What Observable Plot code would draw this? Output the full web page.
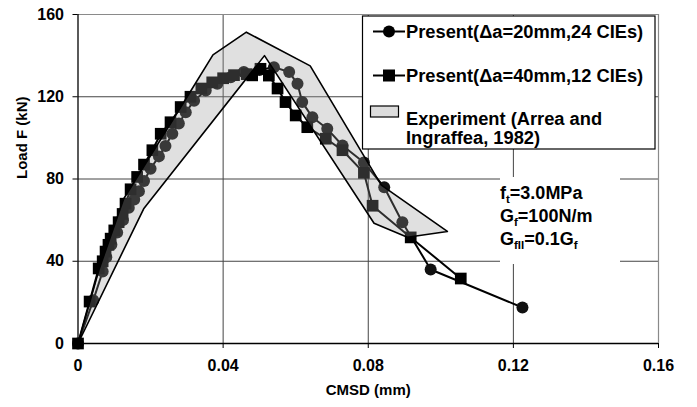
<!DOCTYPE html>
<html>
<head>
<meta charset="utf-8">
<script src="https://cdn.jsdelivr.net/npm/d3@7"></script>
<script src="https://cdn.jsdelivr.net/npm/@observablehq/plot@0.6"></script>
<style>
  html, body { margin: 0; padding: 0; background: white; }
  #chart { width: 697px; height: 407px; }
</style>
</head>
<body>
<div id="chart"></div>
<script>
// ---- tick values ----
const xTicks = [0, 0.04, 0.08, 0.12, 0.16];
const yTicks = [0, 40, 80, 120, 160];

// ---- Present (Δa=20mm, 24 CIEs) : circles ----
const circX = [0, 0.0042, 0.0068, 0.0078, 0.0092, 0.0108, 0.0124, 0.0140, 0.0155, 0.0168, 0.0182, 0.0200, 0.0223, 0.0241, 0.0260, 0.0278, 0.0297, 0.0320, 0.0352, 0.0384, 0.0421, 0.0457, 0.0500, 0.0540, 0.0582, 0.0605, 0.0618, 0.0646, 0.0687, 0.0729, 0.0788, 0.0844, 0.0894, 0.0972, 0.1225];
const circY = [0, 21, 35, 42, 48, 54, 60, 66, 70, 74, 79, 85, 91, 96, 102, 107, 112.5, 118, 123, 126.3, 129.5, 132, 133, 134.4, 132, 126.3, 117.4, 110, 104.4, 96.3, 88, 76, 59, 36, 17.5];

// ---- Present (Δa=40mm, 12 CIEs) : squares ----
const sqX = [0, 0.0032, 0.0057, 0.0068, 0.0076, 0.0084, 0.0090, 0.0100, 0.0112, 0.0123, 0.0131, 0.0145, 0.0163, 0.0182, 0.0205, 0.0228, 0.0255, 0.0283, 0.0310, 0.0340, 0.0370, 0.0400, 0.0430, 0.0465, 0.0480, 0.0503, 0.0526, 0.0550, 0.0572, 0.0600, 0.0632, 0.0683, 0.0729, 0.0788, 0.0812, 0.0917, 0.1055];
const sqY = [0, 20.4, 36.5, 40, 44.7, 48, 51, 55, 59, 63, 68, 75, 81, 87, 94, 102, 107.6, 115, 120, 124, 127, 129, 130.5, 131, 130.4, 133.6, 130.3, 124, 117.4, 110.9, 105.2, 99.6, 94, 83, 67, 51.6, 31.6];

// ---- Experiment band (Arrea and Ingraffea, 1982): closed outline ----
const bandX = [0, 0.0058, 0.0126, 0.0301, 0.0372, 0.0464, 0.0640, 0.0836, 0.1018, 0.0908, 0.0816, 0.0514, 0.0181, 0];
const bandY = [0, 36, 70.4, 120, 140.4, 151.4, 135, 77, 54.5, 51.7, 58.5, 140, 65.5, 0];

// ---- texts ----
const xTitle = "CMSD (mm)";
const yTitle = "Load F (kN)";
const legendLabels = ["Present(Δa=20mm,24 CIEs)", "Present(Δa=40mm,12 CIEs)", ["Experiment (Arrea and", "Ingraffea, 1982)"]];

const circ = circX.map((x, i) => ({x, y: circY[i]}));
const sq = sqX.map((x, i) => ({x, y: sqY[i]}));
const band = bandX.map((x, i) => ({x, y: bandY[i]}));

const FONT = "'Liberation Sans', Arial, Helvetica, sans-serif";

const svg = Plot.plot({
  width: 697,
  height: 407,
  marginLeft: 77.5,
  marginRight: 39,
  marginTop: 14,
  marginBottom: 64,
  style: {fontFamily: FONT, fontWeight: "bold", fontSize: "16px", color: "black", background: "white", overflow: "visible"},
  x: {domain: [0, 0.16], ticks: xTicks, tickFormat: d => String(d), label: null},
  y: {domain: [0, 160], ticks: yTicks, label: null},
  marks: [
    Plot.ruleX(xTicks.slice(1, 4), {stroke: "#444", strokeWidth: 1}),
    Plot.ruleY(yTicks.slice(1, 4), {stroke: "#444", strokeWidth: 1}),
    Plot.ruleX([0.16], {stroke: "#8a8a8a", strokeWidth: 1.2}),
    Plot.ruleY([160], {stroke: "#8a8a8a", strokeWidth: 1.2}),
    Plot.axisX({ticks: xTicks, tickFormat: d => String(d), tickSize: 5, tickPadding: 11, label: null, fontSize: 16}),
    Plot.axisY({ticks: yTicks, tickSize: 5, tickPadding: 9, label: null, fontSize: 16}),
    Plot.ruleX([0], {stroke: "black", strokeWidth: 1.3}),
    Plot.ruleY([0], {stroke: "black", strokeWidth: 1.3}),
    Plot.line(circ, {x: "x", y: "y", stroke: "black", strokeWidth: 2}),
    Plot.dot(circ, {x: "x", y: "y", r: 6, fill: "#111", stroke: "none"}),
    Plot.line(sq, {x: "x", y: "y", stroke: "black", strokeWidth: 2}),
    Plot.dot(sq, {x: "x", y: "y", symbol: "square", r: 6.6, fill: "#000", stroke: "none"}),
    Plot.line(band, {x: "x", y: "y", fill: "#999", fillOpacity: 0.3, stroke: "black", strokeWidth: 1.6}),
    Plot.text([yTitle], {frameAnchor: "left", dx: -56, rotate: -90, fontSize: 15, fontWeight: "bold"}),
    Plot.text([xTitle], {frameAnchor: "bottom", dy: 51, fontSize: 15, fontWeight: "bold"})
  ]
});

// ---- legend box & annotation (drawn in the same SVG) ----
const g = d3.select(svg).append("g").attr("font-family", FONT).attr("font-weight", "bold").attr("text-anchor", "start");
const lg = g.append("g");
lg.append("rect").attr("x", 362.5).attr("y", 16).attr("width", 292.5).attr("height", 133)
  .attr("fill", "white").attr("stroke", "black").attr("stroke-width", 1.2);
const rowY = [31.5, 75.5];
rowY.forEach((yy, i) => {
  lg.append("line").attr("x1", 373).attr("x2", 405).attr("y1", yy).attr("y2", yy).attr("stroke", "black").attr("stroke-width", 2);
  if (i === 0) lg.append("circle").attr("cx", 389).attr("cy", yy).attr("r", 6).attr("fill", "#000");
  else lg.append("rect").attr("x", 383).attr("y", yy - 6).attr("width", 12).attr("height", 12).attr("fill", "#000");
  lg.append("text").attr("x", 406).attr("y", yy).attr("dy", "0.36em").attr("font-size", 18.3).text(legendLabels[i]);
});
lg.append("rect").attr("x", 370.5).attr("y", 106).attr("width", 28).attr("height", 11)
  .attr("fill", "#dcdcdc").attr("stroke", "black").attr("stroke-width", 1.2);
legendLabels[2].forEach((t, j) => {
  lg.append("text").attr("x", 406).attr("y", 118 + j * 19.5).attr("dy", "0.36em").attr("font-size", 18.3).text(t);
});

const an = g.append("g");
an.append("rect").attr("x", 500).attr("y", 177).attr("width", 120).attr("height", 87).attr("fill", "white");
function sub(yy, parts) {
  const t = an.append("text").attr("x", 500).attr("y", yy).attr("dy", "0.36em").attr("font-size", 18);
  parts.forEach(([s, isSub]) => {
    const ts = t.append("tspan").text(s);
    if (isSub) ts.attr("font-size", 11.5).attr("baseline-shift", "-30%");
  });
}
sub(193, [["f", false], ["t", true], ["=3.0MPa", false]]);
sub(216, [["G", false], ["f", true], ["=100N/m", false]]);
sub(238.5, [["G", false], ["fII", true], ["=0.1G", false], ["f", true]]);

document.getElementById("chart").appendChild(svg);
</script>
</body>
</html>
